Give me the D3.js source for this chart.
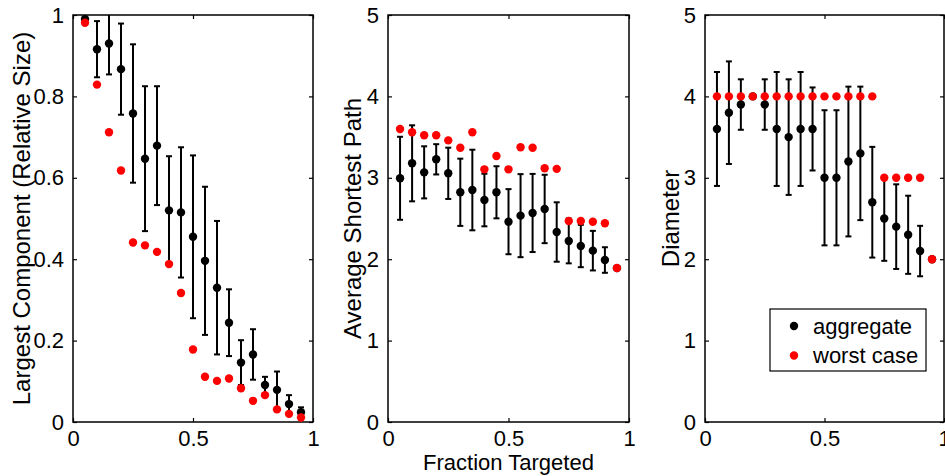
<!DOCTYPE html>
<html>
<head>
<meta charset="utf-8">
<script src="https://cdn.jsdelivr.net/npm/d3@7"></script>
<style>
  body { margin: 0; background: #fff; }
  text { font-family: "Liberation Sans", Arial, sans-serif; fill: #000; }
</style>
</head>
<body>
<div id="chart"></div>
<script>
// data
var fraction = [0.05, 0.10, 0.15, 0.20, 0.25, 0.30, 0.35, 0.40, 0.45, 0.50,
                0.55, 0.60, 0.65, 0.70, 0.75, 0.80, 0.85, 0.90, 0.95];

// largest component (relative size)
var compMean  = [0.990, 0.916, 0.930, 0.867, 0.758, 0.647, 0.679, 0.520, 0.515, 0.455,
                 0.396, 0.330, 0.244, 0.146, 0.166, 0.091, 0.079, 0.044, 0.024];
var compErr   = [0.012, 0.069, 0.076, 0.112, 0.170, 0.178, 0.146, 0.133, 0.160, 0.200,
                 0.182, 0.164, 0.082, 0.055, 0.062, 0.020, 0.045, 0.022, 0.012];
var compWorst = [0.981, 0.829, 0.712, 0.618, 0.441, 0.434, 0.418, 0.388, 0.317, 0.178,
                 0.111, 0.101, 0.107, 0.083, 0.052, 0.066, 0.031, 0.020, 0.011];

// average shortest path
var pathMean  = [2.994, 3.178, 3.067, 3.227, 3.055, 2.822, 2.850, 2.727, 2.822, 2.461,
                 2.535, 2.568, 2.617, 2.334, 2.224, 2.162, 2.105, 1.990, 1.890];
var pathErr   = [0.510, 0.467, 0.320, 0.186, 0.315, 0.413, 0.495, 0.323, 0.320, 0.400,
                 0.510, 0.480, 0.420, 0.365, 0.275, 0.260, 0.243, 0.157, 0.000];
var pathWorst = [3.600, 3.559, 3.522, 3.522, 3.460, 3.370, 3.560, 3.104, 3.268, 3.104,
                 3.375, 3.370, 3.117, 3.110, 2.469, 2.469, 2.460, 2.441, 1.892];

// diameter
var diamMean  = [3.6, 3.8, 3.9, 4.0, 3.9, 3.6, 3.5, 3.6, 3.6, 3.0,
                 3.0, 3.2, 3.3, 2.7, 2.5, 2.4, 2.3, 2.1, 2.0];
var diamErr   = [0.70, 0.63, 0.31, 0.00, 0.31, 0.70, 0.71, 0.70, 0.51, 0.83,
                 0.83, 0.92, 0.82, 0.68, 0.52, 0.52, 0.48, 0.31, 0.00];
var diamWorst = [4, 4, 4, 4, 4, 4, 4, 4, 4, 4,
                 4, 4, 4, 4, 3, 3, 3, 3, 2];

var xTicks = [0, 0.5, 1];
var compTicks = [0, 0.2, 0.4, 0.6, 0.8, 1];
var countTicks = [0, 1, 2, 3, 4, 5];

var legendLabels = ["aggregate", "worst case"];

var width = 945, height = 476;
var plotTop = 15, plotBottom = 422;
var fontSize = 22;
var yLabelSize = 24;

var svg = d3.select("#chart")
            .append("svg")
            .attr("width", width).attr("height", height);

var panels = [
  {left: 73,  right: 313, yMax: 1, ticks: compTicks,  mean: compMean, err: compErr, worst: compWorst,
   label: "Largest Component (Relative Size)", labelX: 22},
  {left: 388, right: 629, yMax: 5, ticks: countTicks, mean: pathMean, err: pathErr, worst: pathWorst,
   label: "Average Shortest Path", labelX: 353},
  {left: 705, right: 944, yMax: 5, ticks: countTicks, mean: diamMean, err: diamErr, worst: diamWorst,
   label: "Diameter", labelX: 671}
];

panels.forEach(function(p, i) {
  var xScale = d3.scaleLinear().domain([0, 1]).range([p.left, p.right]);
  var yScale = d3.scaleLinear().domain([0, p.yMax]).range([plotBottom, plotTop]);

  var g = svg.append("g");

  // clip so bars running past the top stay inside the box
  svg.append("clipPath").attr("id", "clip" + i)
     .append("rect")
     .attr("x", p.left).attr("y", plotTop)
     .attr("width", p.right - p.left).attr("height", plotBottom - plotTop);

  var fmt = function(d) { return d3.format("~g")(d); };

  // axes with inside ticks (matlab style)
  var bottomAxis = d3.axisBottom(xScale).tickValues(xTicks).tickSize(-4).tickPadding(8).tickFormat(fmt);
  var topAxis = d3.axisTop(xScale).tickValues(xTicks).tickSize(-4).tickFormat("");
  var leftAxis = d3.axisLeft(yScale).tickValues(p.ticks).tickSize(-4).tickPadding(9).tickFormat(fmt);
  var rightAxis = d3.axisRight(yScale).tickValues(p.ticks).tickSize(-4).tickFormat("");

  g.append("g").attr("transform", "translate(0," + plotBottom + ")").call(bottomAxis);
  g.append("g").attr("transform", "translate(0," + plotTop + ")").call(topAxis);
  g.append("g").attr("transform", "translate(" + p.left + ",0)").call(leftAxis);
  g.append("g").attr("transform", "translate(" + p.right + ",0)").call(rightAxis);

  g.selectAll(".domain").remove();
  g.selectAll(".tick line").attr("stroke", "#000").attr("stroke-width", 1.2);
  g.selectAll(".tick text").style("font-size", fontSize + "px")
   .style("font-family", "'Liberation Sans', Arial, sans-serif").attr("fill", "#000");

  g.append("rect")
   .attr("x", p.left).attr("y", plotTop)
   .attr("width", p.right - p.left).attr("height", plotBottom - plotTop)
   .attr("fill", "none").attr("stroke", "#000").attr("stroke-width", 1.5);

  // y label
  g.append("text")
   .attr("transform", "translate(" + p.labelX + "," + ((plotTop + plotBottom) / 2) + ") rotate(-90)")
   .attr("text-anchor", "middle")
   .attr("dy", "0.35em")
   .style("font-size", yLabelSize + "px")
   .text(p.label);

  var marks = g.append("g").attr("clip-path", "url(#clip" + i + ")");

  // error bars
  var bars = marks.selectAll(".bar")
    .data(fraction.map(function(f, j) { return {x: f, m: p.mean[j], e: p.err[j]}; }))
    .enter().append("g").attr("class", "bar");

  bars.filter(function(d) { return d.e > 0; }).append("line")
    .attr("x1", function(d) { return xScale(d.x); })
    .attr("x2", function(d) { return xScale(d.x); })
    .attr("y1", function(d) { return yScale(d.m - d.e); })
    .attr("y2", function(d) { return yScale(d.m + d.e); })
    .attr("stroke", "#000").attr("stroke-width", 2);

  [-1, 1].forEach(function(s) {
    bars.filter(function(d) { return d.e > 0; }).append("line")
      .attr("x1", function(d) { return xScale(d.x) - 3; })
      .attr("x2", function(d) { return xScale(d.x) + 3; })
      .attr("y1", function(d) { return yScale(d.m + s * d.e); })
      .attr("y2", function(d) { return yScale(d.m + s * d.e); })
      .attr("stroke", "#000").attr("stroke-width", 2);
  });

  bars.append("circle")
    .attr("cx", function(d) { return xScale(d.x); })
    .attr("cy", function(d) { return yScale(d.m); })
    .attr("r", 4.2)
    .attr("fill", "#000");

  // worst case dots on top
  marks.selectAll(".worst")
    .data(fraction.map(function(f, j) { return {x: f, v: p.worst[j]}; }))
    .enter().append("circle")
    .attr("class", "worst")
    .attr("cx", function(d) { return xScale(d.x); })
    .attr("cy", function(d) { return yScale(d.v); })
    .attr("r", 4.2)
    .attr("fill", "#ff0000");
});

// shared x label under the middle panel
svg.append("text")
   .attr("x", (panels[1].left + panels[1].right) / 2)
   .attr("y", 470)
   .attr("text-anchor", "middle")
   .style("font-size", fontSize + "px")
   .text("Fraction Targeted");

// legend in the diameter panel
var legend = svg.append("g");
legend.append("rect")
  .attr("x", 770).attr("y", 309).attr("width", 156).attr("height", 62)
  .attr("fill", "#fff").attr("stroke", "#000").attr("stroke-width", 1.2);

var legendColors = ["#000", "#ff0000"];
legendLabels.forEach(function(lab, k) {
  legend.append("circle")
    .attr("cx", 794).attr("cy", 326 + k * 29.5)
    .attr("r", 4.2).attr("fill", legendColors[k]);
  legend.append("text")
    .attr("x", 813).attr("y", 326 + k * 29.5)
    .attr("dy", "0.35em")
    .style("font-size", fontSize + "px")
    .text(lab);
});
</script>
</body>
</html>
